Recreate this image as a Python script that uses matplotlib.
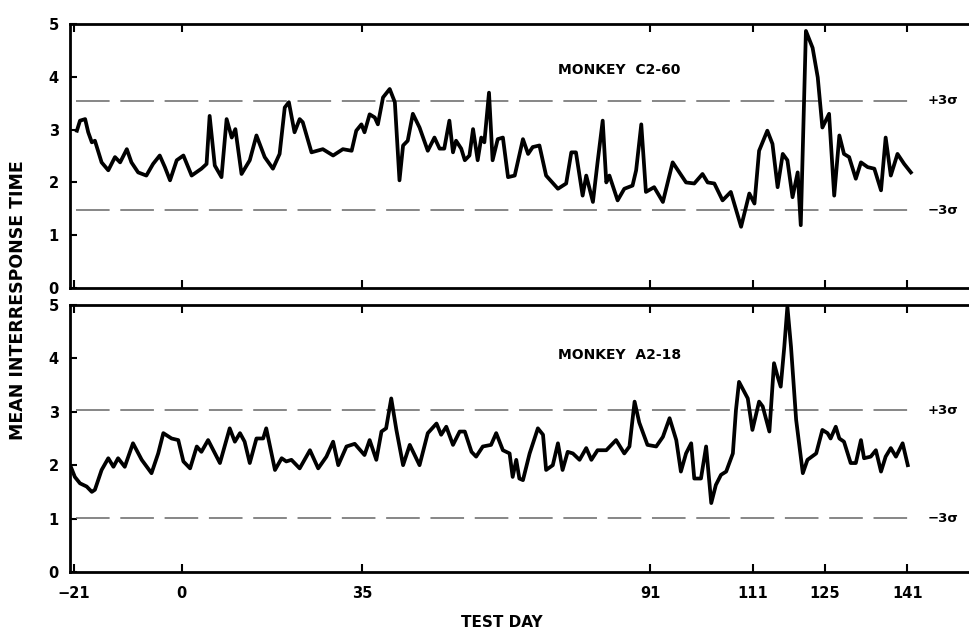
"""
Mean interresponse time per test day for two monkeys, with +/-3 sigma bands.
"""

import matplotlib
matplotlib.use("Agg")
import matplotlib.pyplot as plt

# --- data ------------------------------------------------------------------
c260_day = [-20.4, -19.8, -18.8, -18.2, -17.5, -16.9, -16.2, -15.6, -14.3, -13.0,
            -12.0, -10.7, -9.8, -8.5, -6.9, -5.6, -4.3, -3.3, -2.3, -1.0,
            0.3, 1.9, 3.8, 4.8, 5.4, 6.4, 7.7, 8.7, 9.7, 10.4,
            11.6, 13.2, 14.5, 16.1, 17.7, 19.0, 20.0, 20.8, 21.9, 22.9,
            23.5, 25.2, 27.4, 29.4, 31.3, 33.0, 33.9, 34.9, 35.5, 36.5,
            37.5, 38.1, 39.1, 40.4, 41.4, 42.3, 43.0, 43.9, 44.9, 46.2,
            47.8, 49.1, 50.1, 51.0, 52.0, 52.7, 53.3, 54.3, 55.0, 55.9,
            56.6, 57.5, 58.2, 58.8, 59.7, 60.4, 61.4, 62.4, 63.4, 64.7,
            66.3, 67.3, 68.2, 69.5, 70.8, 73.1, 74.7, 75.7, 76.6, 77.9,
            78.6, 79.9, 80.8, 81.8, 82.5, 83.1, 84.7, 86.0, 87.6, 88.3,
            89.3, 90.2, 91.8, 93.5, 95.4, 98.0, 99.6, 101.2, 102.2, 103.5,
            105.1, 106.7, 108.7, 110.3, 111.3, 112.2, 113.8, 114.8, 115.8, 116.8,
            117.7, 118.7, 119.7, 120.3, 121.3, 122.6, 123.6, 124.5, 125.8, 126.8,
            127.8, 128.7, 129.7, 131.0, 132.0, 133.3, 134.6, 135.9, 136.8, 137.8,
            139.1, 140.4, 141.7]
c260_time = [2.98, 3.17, 3.20, 2.95, 2.76, 2.79, 2.57, 2.38, 2.23, 2.48,
             2.38, 2.63, 2.38, 2.19, 2.13, 2.35, 2.51, 2.29, 2.04, 2.42,
             2.51, 2.13, 2.26, 2.35, 3.26, 2.32, 2.10, 3.20, 2.85, 3.01,
             2.16, 2.42, 2.89, 2.48, 2.26, 2.54, 3.42, 3.52, 2.95, 3.20,
             3.14, 2.57, 2.63, 2.51, 2.63, 2.60, 2.98, 3.10, 2.95, 3.29,
             3.23, 3.10, 3.61, 3.77, 3.52, 2.04, 2.70, 2.79, 3.30, 3.04,
             2.60, 2.85, 2.64, 2.64, 3.17, 2.57, 2.79, 2.64, 2.42, 2.51,
             3.01, 2.42, 2.85, 2.76, 3.70, 2.42, 2.82, 2.85, 2.10, 2.13,
             2.82, 2.54, 2.67, 2.70, 2.13, 1.88, 1.98, 2.57, 2.57, 1.75,
             2.13, 1.63, 2.38, 3.17, 2.00, 2.13, 1.66, 1.88, 1.94, 2.23,
             3.10, 1.82, 1.91, 1.63, 2.38, 2.00, 1.98, 2.16, 2.00, 1.98,
             1.66, 1.82, 1.16, 1.79, 1.60, 2.60, 2.98, 2.73, 1.91, 2.54,
             2.42, 1.72, 2.19, 1.19, 4.87, 4.55, 3.99, 3.04, 3.30, 1.75,
             2.89, 2.54, 2.48, 2.07, 2.38, 2.29, 2.26, 1.85, 2.85, 2.13,
             2.54, 2.35, 2.19]

a218_day = [-21.5, -20.8, -19.8, -18.5, -17.5, -16.9, -15.6, -14.3, -13.3, -12.4,
            -11.1, -9.5, -7.8, -5.9, -4.6, -3.6, -2.0, -0.7, 0.3, 1.6,
            2.9, 3.8, 5.1, 7.4, 9.3, 10.3, 11.3, 12.2, 13.2, 14.5,
            15.8, 16.4, 18.1, 19.4, 20.3, 21.3, 22.9, 24.9, 26.5, 28.1,
            29.4, 30.4, 32.0, 33.6, 35.5, 36.5, 37.8, 38.8, 39.7, 40.7,
            41.7, 43.0, 44.3, 46.2, 47.8, 49.5, 50.4, 51.4, 52.7, 54.0,
            55.0, 56.3, 57.2, 58.5, 60.1, 61.1, 62.4, 63.7, 64.3, 65.0,
            65.6, 66.3, 67.6, 69.2, 70.2, 70.8, 72.1, 73.1, 74.0, 75.0,
            76.0, 77.3, 78.6, 79.6, 80.8, 82.5, 84.4, 86.0, 87.0, 88.0,
            88.9, 90.5, 92.2, 93.5, 94.8, 96.1, 97.0, 98.0, 99.0, 99.6,
            100.9, 101.9, 102.9, 103.8, 104.8, 105.8, 107.1, 107.7, 108.3, 110.0,
            110.9, 112.2, 112.9, 114.2, 115.1, 115.8, 116.4, 117.1, 117.7, 118.4,
            119.4, 120.7, 121.6, 123.3, 124.5, 125.5, 126.1, 127.1, 127.8, 128.7,
            130.0, 131.0, 132.0, 132.6, 133.9, 134.9, 135.9, 136.8, 137.8, 138.8,
            140.1, 141.1]
a218_time = [1.95, 1.78, 1.66, 1.60, 1.50, 1.54, 1.91, 2.13, 1.97, 2.13,
             1.97, 2.41, 2.10, 1.85, 2.22, 2.60, 2.50, 2.47, 2.07, 1.94,
             2.35, 2.25, 2.47, 2.04, 2.69, 2.44, 2.60, 2.44, 2.04, 2.50,
             2.50, 2.69, 1.91, 2.13, 2.07, 2.10, 1.94, 2.28, 1.94, 2.16,
             2.44, 2.00, 2.35, 2.40, 2.19, 2.47, 2.10, 2.63, 2.69, 3.25,
             2.66, 2.00, 2.38, 2.00, 2.60, 2.78, 2.57, 2.72, 2.38, 2.63,
             2.63, 2.25, 2.16, 2.35, 2.38, 2.60, 2.28, 2.22, 1.78, 2.10,
             1.75, 1.72, 2.22, 2.69, 2.57, 1.91, 2.00, 2.41, 1.91, 2.25,
             2.22, 2.10, 2.32, 2.10, 2.28, 2.28, 2.47, 2.22, 2.35, 3.19,
             2.80, 2.38, 2.35, 2.53, 2.88, 2.47, 1.88, 2.22, 2.41, 1.75,
             1.75, 2.35, 1.29, 1.63, 1.82, 1.88, 2.22, 3.03, 3.56, 3.25,
             2.66, 3.19, 3.10, 2.63, 3.91, 3.66, 3.47, 4.22, 4.97, 4.22,
             2.85, 1.85, 2.10, 2.22, 2.66, 2.60, 2.50, 2.72, 2.50, 2.44,
             2.04, 2.04, 2.47, 2.13, 2.16, 2.28, 1.88, 2.16, 2.32, 2.16,
             2.41, 2.00]

# control limits (+3 sigma, -3 sigma) for each monkey
c260_limits = [3.55, 1.47]
a218_limits = [3.03, 1.01]
limit_labels = ["+3σ", "−3σ"]

day_ticks = [-21, 0, 35, 91, 111, 125, 141]
value_ticks = [0, 1, 2, 3, 4, 5]

plt.rcParams["font.family"] = ["DejaVu Sans"]
plt.rcParams["font.weight"] = "bold"

fig = plt.figure(figsize=(9.69, 6.33), dpi=100)
ax_top = fig.add_axes([0.0722, 0.545, 0.9278, 0.417])
ax_bot = fig.add_axes([0.0722, 0.0964, 0.9278, 0.4218])

panels = [
    (ax_top, c260_day, c260_time, c260_limits, "MONKEY  C2-60", 4.13),
    (ax_bot, a218_day, a218_time, a218_limits, "MONKEY  A2-18", 4.06),
]

for ax, days, times, limits, name, name_y in panels:
    # dashed control limits
    for lim, lab in zip(limits, limit_labels):
        ax.hlines(lim, -20.5, 141.5, colors="#666666", linewidth=1.1,
                  linestyles=(0, (22, 7)))
        ax.text(148, lim, lab, fontsize=9.5, ha="center", va="center",
                fontweight="bold")
    ax.plot(days, times, color="black", linewidth=2.7, solid_joinstyle="round")
    ax.text(85, name_y, name, fontsize=10, ha="center", va="center",
            fontweight="semibold")

    ax.set_xlim(-21.75, 153)
    ax.set_ylim(0, 5)
    ax.set_xticks(day_ticks)
    ax.set_yticks(value_ticks)
    ax.tick_params(axis="x", direction="in", top=True, bottom=True,
                   length=6, width=1.5)
    ax.tick_params(axis="y", direction="in", length=5, width=1.5,
                   labelsize=10.5, pad=8)
    ax.spines["right"].set_visible(False)
    for side in ["left", "top", "bottom"]:
        ax.spines[side].set_linewidth(2.0)

ax_top.tick_params(axis="x", labelbottom=False)
ax_bot.tick_params(axis="x", labelsize=10.5, pad=10)

fig.text(0.019, 0.526, "MEAN INTERRESPONSE TIME", rotation=90, fontsize=12.5,
         ha="center", va="center", fontweight="bold")
fig.text(0.518, 0.017, "TEST DAY", fontsize=11, ha="center", va="center",
         fontweight="bold")

fig.savefig("out.png", dpi=100)
